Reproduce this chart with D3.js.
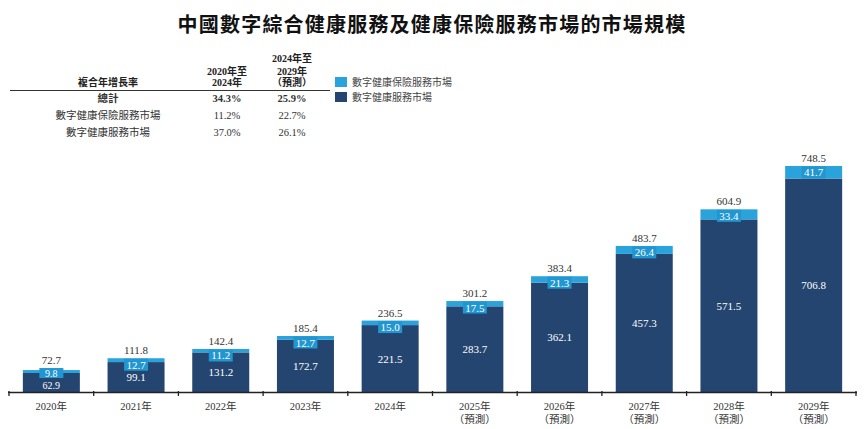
<!DOCTYPE html>
<html><head><meta charset="utf-8">
<script src="https://cdn.jsdelivr.net/npm/d3@7/dist/d3.min.js"></script>
<style>
body{margin:0;background:#fff;}
svg{display:block;font-family:"Liberation Serif","Noto Sans CJK TC",serif;}
</style></head>
<body><svg id="c" width="865" height="429"></svg>
<script>
const years = ["2020年","2021年","2022年","2023年","2024年","2025年","2026年","2027年","2028年","2029年"];
const forecast = [false,false,false,false,false,true,true,true,true,true];
const serviceValues = [62.9,99.1,131.2,172.7,221.5,283.7,362.1,457.3,571.5,706.8];
const insuranceValues = [9.8,12.7,11.2,12.7,15.0,17.5,21.3,26.4,33.4,41.7];
const totalValues = [72.7,111.8,142.4,185.4,236.5,301.2,383.4,483.7,604.9,748.5];
const seriesNames = ["數字健康保險服務市場","數字健康服務市場"];
const cagrRows = ["總計","數字健康保險服務市場","數字健康服務市場"];
const cagr2020_2024 = ["34.3%","11.2%","37.0%"];
const cagr2024_2029 = ["25.9%","22.7%","26.1%"];

const colDark = "#244570", colLight = "#2aa3dc", colBox = "#2196d0";
const svg = d3.select("#c");

svg.append("text").attr("x",432).attr("y",32).attr("text-anchor","middle")
  .attr("font-size",20).attr("font-weight",700).attr("letter-spacing",1.2)
  .attr("font-family","'Noto Sans CJK TC'").attr("fill","#111")
  .text("中國數字綜合健康服務及健康保險服務市場的市場規模");

// table
const tbl = svg.append("g").attr("fill","#222");
tbl.append("text").attr("x",108).attr("y",86).attr("text-anchor","middle").attr("font-size",10).attr("font-weight",700).text("複合年增長率");
[["2020年至",75],["2024年",86]].forEach(d=>tbl.append("text").attr("x",227).attr("y",d[1]).attr("text-anchor","middle").attr("font-size",10).attr("font-weight",700).text(d[0]));
[["2024年至",62],["2029年",75],["（預測）",86]].forEach(d=>tbl.append("text").attr("x",292).attr("y",d[1]).attr("text-anchor","middle").attr("font-size",10).attr("font-weight",700).text(d[0]));
tbl.append("line").attr("x1",10).attr("x2",330).attr("y1",90.5).attr("y2",90.5).attr("stroke","#333").attr("stroke-width",1.2);
const rowY = [102,119,136];
cagrRows.forEach((r,i)=>{
  const b = i===0 ? 700 : 400;
  tbl.append("text").attr("x",108).attr("y",rowY[i]).attr("text-anchor","middle").attr("font-size",10.5).attr("font-weight",b).attr("fill","#333").text(r);
  tbl.append("text").attr("x",227).attr("y",rowY[i]).attr("text-anchor","middle").attr("font-size",10.5).attr("font-weight",b).attr("fill","#333").text(cagr2020_2024[i]);
  tbl.append("text").attr("x",292).attr("y",rowY[i]).attr("text-anchor","middle").attr("font-size",10.5).attr("font-weight",b).attr("fill","#333").text(cagr2024_2029[i]);
});

// legend
[[colLight,77],[colDark,92]].forEach((d,i)=>{
  svg.append("rect").attr("x",335).attr("y",d[1]).attr("width",12).attr("height",10).attr("fill",d[0]);
  svg.append("text").attr("x",352).attr("y",d[1]+8.5).attr("font-size",10).attr("fill","#444").text(seriesNames[i]);
});

// scales
const x = d3.scaleBand().domain(years).range([9,856]).paddingInner(0.327).paddingOuter(0.1635);
const y = d3.scaleLinear().domain([0,800]).range([392,150.4]);
const step = x.step();

const g = svg.append("g");
years.forEach((yr,i)=>{
  const x0 = x(yr), w = x.bandwidth(), cx = x0 + w/2;
  const s = serviceValues[i], ins = insuranceValues[i];
  g.append("rect").attr("x",x0).attr("width",w).attr("y",y(s)).attr("height",y(0)-y(s)).attr("fill",colDark);
  g.append("rect").attr("x",x0).attr("width",w).attr("y",y(s+ins)).attr("height",y(s)-y(s+ins)).attr("fill",colLight);
  const top = y(s+ins);
  const tight = (y(0)-top) < 28;
  const fs = tight ? 10 : 11;
  // insurance label box
  const lbl = ins.toFixed(1);
  const boxY = tight ? top-2 : top+0.5;
  const boxH = tight ? 10 : 12;
  g.append("rect").attr("x",cx-12).attr("y",boxY).attr("width",24).attr("height",boxH).attr("fill",colBox);
  g.append("text").attr("x",cx).attr("y",boxY+boxH/2+(tight?3.5:4)).attr("text-anchor","middle").attr("font-size",fs).attr("fill","#fff").text(lbl);
  // service label
  const sBase = tight ? y(0)-3 : (y(s)+y(0))/2+4;
  g.append("text").attr("x",cx).attr("y",sBase).attr("text-anchor","middle").attr("font-size",fs).attr("fill","#fff").text(s.toFixed(1));
  // total
  g.append("text").attr("x",cx).attr("y",(tight ? boxY : top)-4).attr("text-anchor","middle").attr("font-size",11).attr("fill","#333").text(totalValues[i].toFixed(1));
  // x labels
  g.append("text").attr("x",cx).attr("y",410).attr("text-anchor","middle").attr("font-size",10.5).attr("fill","#333").text(yr);
  if(forecast[i]) g.append("text").attr("x",cx).attr("y",423).attr("text-anchor","middle").attr("font-size",10.5).attr("fill","#333").text("（預測）");
});

// axis
svg.append("line").attr("x1",8).attr("x2",857).attr("y1",392.5).attr("y2",392.5).attr("stroke","#222").attr("stroke-width",1.3);
d3.range(years.length+1).forEach(i=>{
  const tx = 9 + i*step;
  svg.append("line").attr("x1",tx).attr("x2",tx).attr("y1",391).attr("y2",396).attr("stroke","#222").attr("stroke-width",1.3);
});
</script></body></html>
